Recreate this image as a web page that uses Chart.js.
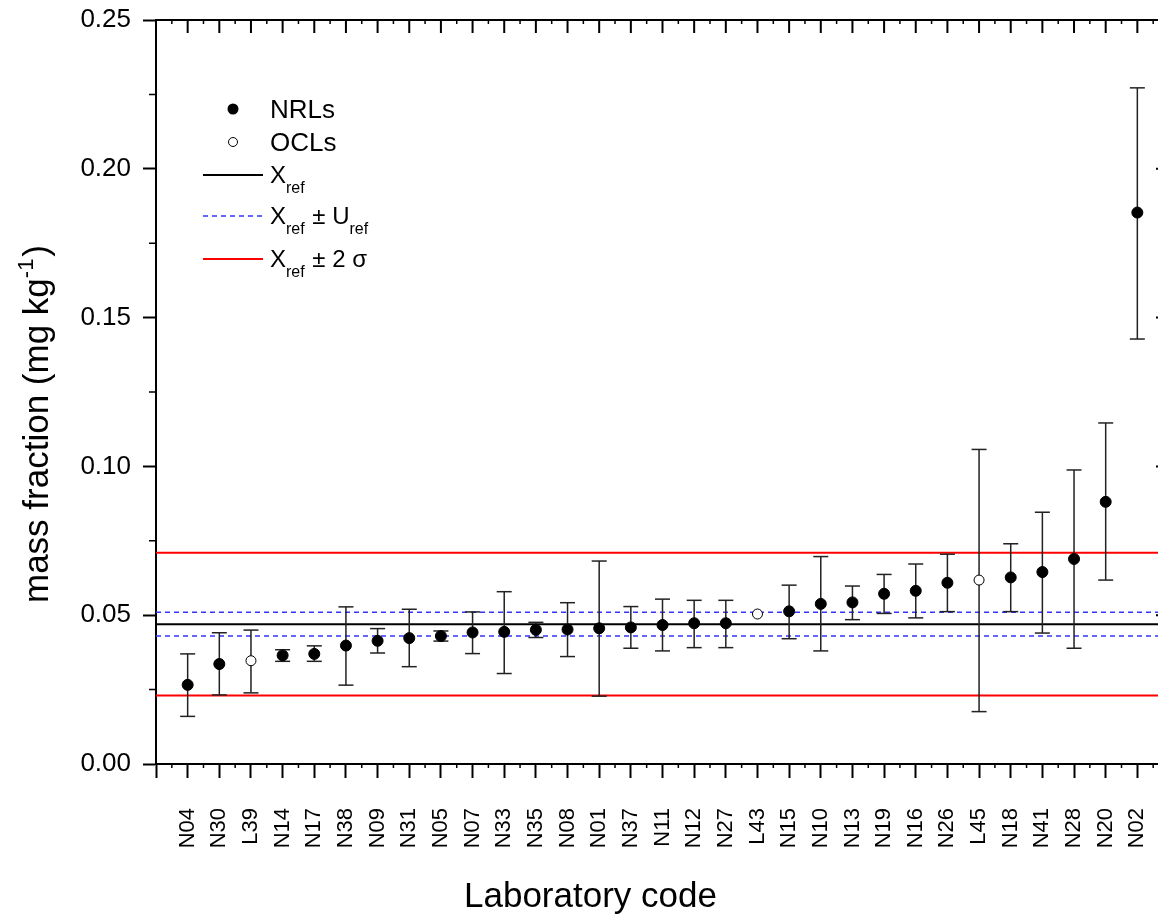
<!DOCTYPE html>
<html>
<head>
<meta charset="utf-8">
<script src="https://cdn.jsdelivr.net/npm/chart.js@4.4.1/dist/chart.umd.min.js"></script>
<style>
  html, body { margin: 0; padding: 0; background: #fff; overflow: hidden; }
  #wrap { width: 1178px; height: 918px; }
</style>
</head>
<body>
<div id="wrap"><canvas id="c" width="1178" height="918"></canvas></div>
<script>
// lab results, sorted by value (mg/kg)
const labs = ['N04','N30','L39','N14','N17','N38','N09','N31','N05','N07','N33','N35','N08','N01','N37',
  'N11','N12','N27','L43','N15','N10','N13','N19','N16','N26','L45','N18','N41','N28','N20','N02'];
const values = [0.0266,0.0336,0.0347,0.0365,0.0370,0.0398,0.0414,0.0423,0.0430,0.0442,0.0444,0.0451,0.0452,0.0456,0.0459,
  0.0467,0.0473,0.0473,0.0504,0.0513,0.0538,0.0543,0.0572,0.0582,0.0609,0.0618,0.0627,0.0645,0.0689,0.0881,0.1853];
const upper = [0.0370,0.0441,0.0450,0.0384,0.0397,0.0528,0.0455,0.0520,0.0447,0.0511,0.0579,0.0476,0.0542,0.0682,0.0529,
  0.0554,0.0550,0.0550,null,0.0601,0.0697,0.0598,0.0637,0.0672,0.0705,0.1057,0.0740,0.0846,0.0988,0.1146,0.2272];
const lower = [0.0160,0.0232,0.0239,0.0345,0.0345,0.0265,0.0373,0.0327,0.0413,0.0371,0.0304,0.0425,0.0361,0.0228,0.0389,
  0.0380,0.0391,0.0391,null,0.0421,0.0380,0.0485,0.0506,0.0491,0.0512,0.0176,0.0512,0.0440,0.0389,0.0618,0.1428];

const X_REF = 0.047;
const U_LOW = 0.043, U_HIGH = 0.051;
const S_LOW = 0.023, S_HIGH = 0.071;
const X_MIN = 0, X_MAX = 32;

const FONT = '"Liberation Sans", Arial, sans-serif';

const pts = labs.map((l, i) => ({ x: i + 1, y: values[i], kind: l[0] }));
const stems = [], caps = [];
labs.forEach((l, i) => {
  if (upper[i] == null) return;
  stems.push({ x: i + 1, y: lower[i] }, { x: i + 1, y: upper[i] }, { x: i + 1, y: null });
  caps.push({ x: i + 1, y: lower[i] }, { x: i + 1, y: upper[i] });
});
const hline = y => [{ x: X_MIN, y }, { x: X_MAX, y }];

// frame, inward ticks, legend and axis titles
const decor = {
  id: 'decor',
  afterDraw(chart) {
    const ctx = chart.ctx, a = chart.chartArea;
    const xs = chart.scales.x, ys = chart.scales.y;
    ctx.save();
    ctx.strokeStyle = '#000';
    ctx.lineWidth = 2;
    ctx.beginPath();
    ctx.moveTo(a.left, a.top); ctx.lineTo(a.right, a.top); ctx.lineTo(a.right, a.bottom);
    ctx.stroke();
    ctx.beginPath();
    for (let i = 1; i <= 31; i++) {
      const px = xs.getPixelForValue(i);
      ctx.moveTo(px, a.top); ctx.lineTo(px, a.top + 13);
    }
    for (let v = 0.05; v < 0.26; v += 0.05) {
      const py = ys.getPixelForValue(v);
      ctx.moveTo(a.right, py); ctx.lineTo(a.right - 13, py);
    }
    ctx.stroke();
    ctx.lineWidth = 1.5;
    ctx.beginPath();
    for (let v = 0.025; v < 0.25; v += 0.05) {
      const py = ys.getPixelForValue(v);
      ctx.moveTo(a.left, py); ctx.lineTo(a.left - 7, py);
      ctx.moveTo(a.right, py); ctx.lineTo(a.right - 7, py);
    }
    for (let i = 0.5; i < 32; i += 1) {
      const px = xs.getPixelForValue(i);
      ctx.moveTo(px, a.bottom); ctx.lineTo(px, a.bottom + 4);
      ctx.moveTo(px, a.top); ctx.lineTo(px, a.top + 4);
    }
    ctx.stroke();

    // legend
    ctx.fillStyle = '#000';
    ctx.beginPath(); ctx.arc(233, 109, 5.5, 0, Math.PI * 2); ctx.fill();
    ctx.lineWidth = 1;
    ctx.beginPath(); ctx.arc(233, 142, 4.5, 0, Math.PI * 2); ctx.stroke();
    ctx.textBaseline = 'alphabetic';
    ctx.textAlign = 'left';
    ctx.font = '26px ' + FONT;
    ctx.fillText('NRLs', 270, 118);
    ctx.fillText('OCLs', 270, 151);

    const rows = [
      { y: 175, color: '#000', w: 2, dash: [], parts: [['X', 0], ['ref', 1]] },
      { y: 216, color: '#3535ff', w: 1.5, dash: [5, 4], parts: [['X', 0], ['ref', 1], [' \u00b1 U', 0], ['ref', 1]] },
      { y: 259, color: '#ff0000', w: 2, dash: [], parts: [['X', 0], ['ref', 1], [' \u00b1 2 \u03c3', 0]] },
    ];
    rows.forEach(r => {
      ctx.strokeStyle = r.color; ctx.lineWidth = r.w; ctx.setLineDash(r.dash);
      ctx.beginPath(); ctx.moveTo(203, r.y); ctx.lineTo(263, r.y); ctx.stroke();
      ctx.setLineDash([]);
      let x = 270;
      r.parts.forEach(([t, sub]) => {
        ctx.font = (sub ? '16px ' : '24px ') + FONT;
        ctx.fillText(t, x, r.y + (sub ? 18 : 8));
        x += ctx.measureText(t).width + (sub ? 1 : 0);
      });
    });

    // axis titles
    ctx.font = '35px ' + FONT;
    ctx.fillText('Laboratory code', 464, 907);

    ctx.translate(48, 603);
    ctx.rotate(-Math.PI / 2);
    let x = 0;
    const main = 'mass fraction (mg kg';
    ctx.fillText(main, x, 0);
    x += ctx.measureText(main).width;
    ctx.font = '22px ' + FONT;
    ctx.fillText('-1', x, -15);
    x += ctx.measureText('-1').width + 2;
    ctx.font = '35px ' + FONT;
    ctx.fillText(')', x, 0);
    ctx.restore();
  }
};

new Chart(document.getElementById('c'), {
  type: 'scatter',
  data: {
    datasets: [
      { label: 'NRLs', data: pts.filter(p => p.kind === 'N'), pointRadius: 5.5, pointBackgroundColor: '#000',
        pointBorderColor: '#000', pointBorderWidth: 1 },
      { label: 'OCLs', data: pts.filter(p => p.kind === 'L'), pointRadius: 5, pointBackgroundColor: '#fff',
        pointBorderColor: '#000', pointBorderWidth: 1 },
      { label: 'caps', data: caps, pointStyle: 'line', pointRadius: 7.5, pointBorderColor: '#222',
        pointBorderWidth: 1.5 },
      { label: 'stems', data: stems, showLine: true, spanGaps: false, pointRadius: 0, borderColor: '#222',
        borderWidth: 1.5 },
      { label: 'Xref', data: hline(X_REF), showLine: true, pointRadius: 0, borderColor: '#000', borderWidth: 2 },
      { label: 'U+', data: hline(U_HIGH), showLine: true, pointRadius: 0, borderColor: '#3535ff', borderWidth: 1.5, borderDash: [5, 4] },
      { label: 'U-', data: hline(U_LOW), showLine: true, pointRadius: 0, borderColor: '#3535ff', borderWidth: 1.5, borderDash: [5, 4] },
      { label: 'S+', data: hline(S_HIGH), showLine: true, pointRadius: 0, borderColor: '#ff0000', borderWidth: 2 },
      { label: 'S-', data: hline(S_LOW), showLine: true, pointRadius: 0, borderColor: '#ff0000', borderWidth: 2 },
    ]
  },
  options: {
    responsive: false,
    animation: false,
    devicePixelRatio: 1,
    layout: { padding: { top: 20, right: 2, left: 0, bottom: 0 } },
    plugins: { legend: { display: false }, tooltip: { enabled: false } },
    scales: {
      x: {
        type: 'linear', min: X_MIN, max: X_MAX,
        ticks: {
          stepSize: 1, autoSkip: false, maxRotation: 90, minRotation: 90, padding: 30,
          color: '#000', font: { family: FONT, size: 22 },
          callback: v => labs[v - 1] || ''
        },
        grid: { drawOnChartArea: false, tickLength: 14, tickWidth: 2, tickColor: '#000' },
        border: { color: '#000', width: 2 },
        afterFit: s => { s.height = 154; s.paddingLeft = 0; s.paddingRight = 0; }
      },
      y: {
        min: 0, max: 0.25,
        ticks: {
          stepSize: 0.05, padding: 12, color: '#000', font: { family: FONT, size: 26 },
          callback: v => v.toFixed(2)
        },
        grid: { drawOnChartArea: false, tickLength: 13, tickWidth: 2, tickColor: '#000' },
        border: { color: '#000', width: 2 },
        afterFit: s => { s.width = 156; s.paddingTop = 0; s.paddingBottom = 0; }
      }
    }
  },
  plugins: [decor]
});
</script>
</body>
</html>
